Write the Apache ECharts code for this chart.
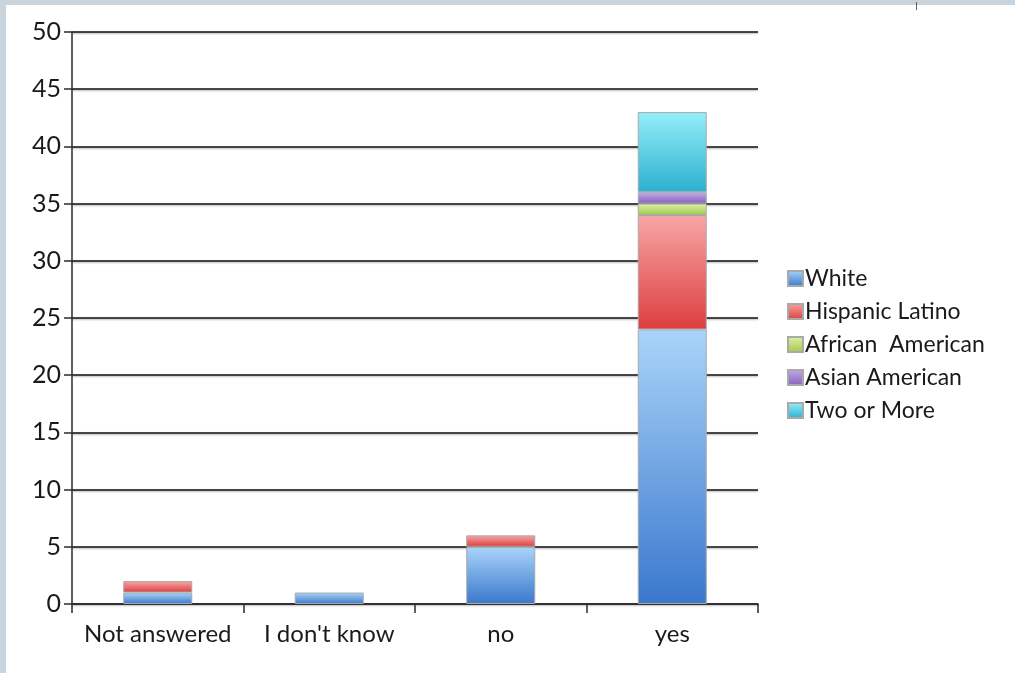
<!DOCTYPE html>
<html>
<head>
<meta charset="utf-8">
<script src="https://cdn.jsdelivr.net/npm/echarts@6/dist/echarts.min.js"></script>
<style>
  html, body { margin: 0; padding: 0; width: 1015px; height: 673px; overflow: hidden; background: #c9d4dc; }
  #chart { position: absolute; left: 6px; top: 5px; width: 1009px; height: 668px; background: #ffffff; }
  #mark { position: absolute; left: 916px; top: 2px; width: 1px; height: 8px; background: #5a6470; }
</style>
</head>
<body>
<div id="chart"></div>
<div id="mark"></div>
<script>
// Survey answers by ethnicity (counts)
const categories = ['Not answered', "I don't know", 'no', 'yes'];
const seriesNames = ['White', 'Hispanic Latino', 'African  American', 'Asian American', 'Two or More'];
const white = [1, 1, 5, 24];
const hispanicLatino = [1, 0, 1, 10];
const africanAmerican = [0, 0, 0, 1];
const asianAmerican = [0, 0, 0, 1];
const twoOrMore = [0, 0, 0, 7];
const yTicks = { min: 0, max: 50, interval: 5 };

// top / bottom shades of each series' vertical gradient
const shades = [
  ['#aad4fa', '#3a78cc'],
  ['#f8a6a6', '#dc3e3e'],
  ['#dcf2a6', '#a3c848'],
  ['#c4ace8', '#8660bf'],
  ['#96eef8', '#2cb0d0']
];

const values = [white, hispanicLatino, africanAmerican, asianAmerican, twoOrMore];
const FONT = 'Lato';

function grad(pair) {
  return new echarts.graphic.LinearGradient(0, 0, 0, 1, [
    { offset: 0, color: pair[0] },
    { offset: 1, color: pair[1] }
  ]);
}

const series = seriesNames.map((name, i) => ({
  name: name,
  type: 'bar',
  stack: 'total',
  barWidth: 69,
  data: values[i].map(v => (v === 0 ? null : v)),
  itemStyle: { color: grad(shades[i]), borderColor: '#a9a9a9', borderWidth: 1 },
  emphasis: { disabled: true }
}));

const chart = echarts.init(document.getElementById('chart'), null, { renderer: 'canvas' });
chart.setOption({
  animation: false,
  backgroundColor: '#ffffff',
  grid: { left: 66, top: 27, right: 257, bottom: 69, containLabel: false },
  legend: {
    orient: 'vertical',
    left: 776,
    top: 257,
    itemWidth: 15,
    itemHeight: 15,
    itemGap: 10,
    icon: 'rect',
    selectedMode: false,
    textStyle: { fontFamily: FONT, fontSize: 23, color: '#1a1a1a', padding: [0, 0, 0, -3] },
    data: seriesNames
  },
  xAxis: {
    type: 'category',
    data: categories,
    boundaryGap: true,
    axisLine: { lineStyle: { color: '#2b2b2b', width: 1.5 } },
    axisTick: { show: true, interval: 0, alignWithLabel: false, length: 9, lineStyle: { color: '#2b2b2b', width: 1.5 } },
    axisLabel: { interval: 0, fontFamily: FONT, fontSize: 24, color: '#1a1a1a', margin: 18 },
    splitLine: { show: false }
  },
  yAxis: {
    type: 'value',
    min: yTicks.min,
    max: yTicks.max,
    interval: yTicks.interval,
    axisLine: { show: true, lineStyle: { color: '#2b2b2b', width: 1.5 } },
    axisTick: { show: true, length: 8, lineStyle: { color: '#2b2b2b', width: 1.5 } },
    axisLabel: { fontFamily: FONT, fontSize: 25, color: '#1a1a1a', margin: 11 },
    splitLine: {
      show: true,
      lineStyle: { color: '#111111', width: 1.5, shadowColor: 'rgba(0,0,0,0.35)', shadowBlur: 2, shadowOffsetY: 1 }
    }
  },
  series: series
});
</script>
</body>
</html>
